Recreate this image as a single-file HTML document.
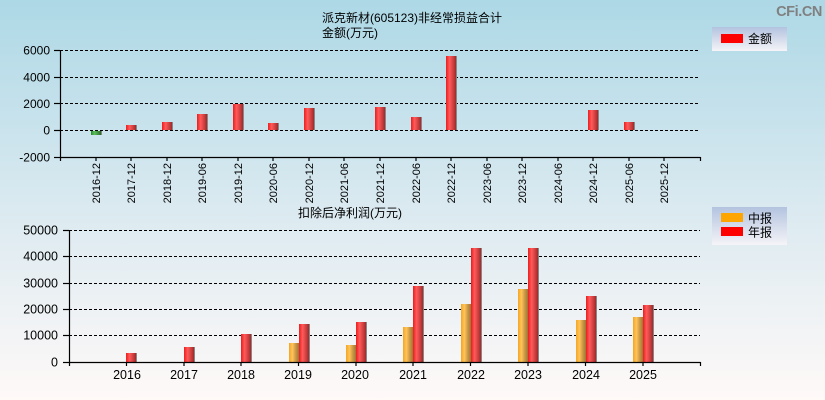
<!DOCTYPE html>
<html><head><meta charset="utf-8"><style>
html,body{margin:0;padding:0;}
body{width:825px;height:400px;overflow:hidden;}
svg{display:block;}
text{font-family:"Liberation Sans","Noto Sans CJK SC",sans-serif;fill:#000;}
</style></head><body>
<svg width="825" height="400" viewBox="0 0 825 400" xmlns="http://www.w3.org/2000/svg">
<defs>
<linearGradient id="bg" x1="0" y1="0" x2="0" y2="1">
<stop offset="0" stop-color="#add8e6"/>
<stop offset="0.5" stop-color="#d9e9f0"/>
<stop offset="1" stop-color="#fff9f8"/>
</linearGradient>
<linearGradient id="leg" x1="0" y1="0" x2="0" y2="1">
<stop offset="0" stop-color="#b3c3df"/>
<stop offset="1" stop-color="#f5f4f8"/>
</linearGradient>
<linearGradient id="red" x1="0" y1="0" x2="1" y2="0">
<stop offset="0" stop-color="#ee1c1c"/>
<stop offset="0.35" stop-color="#ff5a5a"/>
<stop offset="0.6" stop-color="#e04848"/>
<stop offset="1" stop-color="#9e2a2a"/>
</linearGradient>
<linearGradient id="org" x1="0" y1="0" x2="1" y2="0">
<stop offset="0" stop-color="#f5a623"/>
<stop offset="0.35" stop-color="#ffc55a"/>
<stop offset="0.6" stop-color="#d9a048"/>
<stop offset="1" stop-color="#9a7636"/>
</linearGradient>
<linearGradient id="grn" x1="0" y1="0" x2="1" y2="0">
<stop offset="0" stop-color="#2a8a2a"/>
<stop offset="0.35" stop-color="#5cc05c"/>
<stop offset="1" stop-color="#2a6a2a"/>
</linearGradient>
</defs>
<rect x="0" y="0" width="825" height="400" fill="url(#bg)"/>

<text x="822" y="16" font-size="14.5" font-weight="bold" text-anchor="end" letter-spacing="-0.4" style="fill:#808080">CFi.CN</text>

<!-- TOP CHART -->
<text x="412" y="22" font-size="12" text-anchor="middle">派克新材(605123)非经常损益合计</text>
<text x="322" y="37" font-size="12">金额(万元)</text>

<g stroke="#000" stroke-width="1" stroke-dasharray="3,2">
<line x1="60" y1="50.5" x2="700" y2="50.5"/>
<line x1="60" y1="77.5" x2="700" y2="77.5"/>
<line x1="60" y1="103.5" x2="700" y2="103.5"/>
<line x1="60" y1="130.5" x2="700" y2="130.5"/>
</g>

<g>
<rect x="91" y="131" width="10" height="4" fill="url(#grn)"/><rect x="101" y="131" width="1" height="4" fill="#888"/>
<rect x="126" y="125" width="10" height="5" fill="url(#red)"/><rect x="136" y="125" width="1" height="5" fill="#888"/>
<rect x="162" y="122" width="10" height="8" fill="url(#red)"/><rect x="172" y="122" width="1" height="8" fill="#888"/>
<rect x="197" y="114" width="10" height="16" fill="url(#red)"/><rect x="207" y="114" width="1" height="16" fill="#888"/>
<rect x="233" y="104" width="10" height="26" fill="url(#red)"/><rect x="243" y="104" width="1" height="26" fill="#888"/>
<rect x="268" y="123" width="10" height="7" fill="url(#red)"/><rect x="278" y="123" width="1" height="7" fill="#888"/>
<rect x="304" y="108" width="10" height="22" fill="url(#red)"/><rect x="314" y="108" width="1" height="22" fill="#888"/>
<rect x="375" y="107" width="10" height="23" fill="url(#red)"/><rect x="385" y="107" width="1" height="23" fill="#888"/>
<rect x="411" y="117" width="10" height="13" fill="url(#red)"/><rect x="421" y="117" width="1" height="13" fill="#888"/>
<rect x="446" y="56" width="10" height="74" fill="url(#red)"/><rect x="456" y="56" width="1" height="74" fill="#888"/>
<rect x="588" y="110" width="10" height="20" fill="url(#red)"/><rect x="598" y="110" width="1" height="20" fill="#888"/>
<rect x="624" y="122" width="10" height="8" fill="url(#red)"/><rect x="634" y="122" width="1" height="8" fill="#888"/>
</g>

<g stroke="#000" stroke-width="1.2">
<line x1="60.5" y1="50" x2="60.5" y2="161"/>
<line x1="60" y1="157.5" x2="700.5" y2="157.5"/>
<line x1="700.5" y1="157" x2="700.5" y2="161"/>
<line x1="54" y1="50.5" x2="60" y2="50.5"/>
<line x1="54" y1="77.5" x2="60" y2="77.5"/>
<line x1="54" y1="103.5" x2="60" y2="103.5"/>
<line x1="54" y1="130.5" x2="60" y2="130.5"/>
<line x1="54" y1="157.5" x2="60" y2="157.5"/>
<line x1="96" y1="157" x2="96" y2="161"/>
<line x1="131" y1="157" x2="131" y2="161"/>
<line x1="167" y1="157" x2="167" y2="161"/>
<line x1="202" y1="157" x2="202" y2="161"/>
<line x1="238" y1="157" x2="238" y2="161"/>
<line x1="273" y1="157" x2="273" y2="161"/>
<line x1="309" y1="157" x2="309" y2="161"/>
<line x1="344" y1="157" x2="344" y2="161"/>
<line x1="380" y1="157" x2="380" y2="161"/>
<line x1="416" y1="157" x2="416" y2="161"/>
<line x1="451" y1="157" x2="451" y2="161"/>
<line x1="487" y1="157" x2="487" y2="161"/>
<line x1="522" y1="157" x2="522" y2="161"/>
<line x1="558" y1="157" x2="558" y2="161"/>
<line x1="593" y1="157" x2="593" y2="161"/>
<line x1="629" y1="157" x2="629" y2="161"/>
<line x1="664" y1="157" x2="664" y2="161"/>
</g>

<g font-size="12" text-anchor="end">
<text x="50" y="54.5">6000</text>
<text x="50" y="81.5">4000</text>
<text x="50" y="108">2000</text>
<text x="50" y="134.5">0</text>
<text x="50" y="161.5">-2000</text>
</g>

<g font-size="11" text-anchor="end">
<text transform="translate(96,163) rotate(-90)" dy="0.36em">2016-12</text>
<text transform="translate(131,163) rotate(-90)" dy="0.36em">2017-12</text>
<text transform="translate(167,163) rotate(-90)" dy="0.36em">2018-12</text>
<text transform="translate(202,163) rotate(-90)" dy="0.36em">2019-06</text>
<text transform="translate(238,163) rotate(-90)" dy="0.36em">2019-12</text>
<text transform="translate(273,163) rotate(-90)" dy="0.36em">2020-06</text>
<text transform="translate(309,163) rotate(-90)" dy="0.36em">2020-12</text>
<text transform="translate(344,163) rotate(-90)" dy="0.36em">2021-06</text>
<text transform="translate(380,163) rotate(-90)" dy="0.36em">2021-12</text>
<text transform="translate(416,163) rotate(-90)" dy="0.36em">2022-06</text>
<text transform="translate(451,163) rotate(-90)" dy="0.36em">2022-12</text>
<text transform="translate(487,163) rotate(-90)" dy="0.36em">2023-06</text>
<text transform="translate(522,163) rotate(-90)" dy="0.36em">2023-12</text>
<text transform="translate(558,163) rotate(-90)" dy="0.36em">2024-06</text>
<text transform="translate(593,163) rotate(-90)" dy="0.36em">2024-12</text>
<text transform="translate(629,163) rotate(-90)" dy="0.36em">2025-06</text>
<text transform="translate(664,163) rotate(-90)" dy="0.36em">2025-12</text>
</g>

<rect x="712" y="27" width="75" height="24" fill="url(#leg)"/>
<rect x="721" y="34" width="22" height="9" fill="#ff0000"/>
<text x="748" y="43" font-size="12">金额</text>

<!-- BOTTOM CHART -->
<text x="350" y="217" font-size="12" text-anchor="middle">扣除后净利润(万元)</text>

<g stroke="#000" stroke-width="1" stroke-dasharray="3,2">
<line x1="69" y1="230.5" x2="700" y2="230.5"/>
<line x1="69" y1="256.5" x2="700" y2="256.5"/>
<line x1="69" y1="283.5" x2="700" y2="283.5"/>
<line x1="69" y1="309.5" x2="700" y2="309.5"/>
<line x1="69" y1="335.5" x2="700" y2="335.5"/>
</g>

<g>
<rect x="126" y="353" width="10" height="9" fill="url(#red)"/><rect x="136" y="353" width="1" height="9" fill="#888"/>
<rect x="184" y="347" width="10" height="15" fill="url(#red)"/><rect x="194" y="347" width="1" height="15" fill="#888"/>
<rect x="241" y="334" width="10" height="28" fill="url(#red)"/><rect x="251" y="334" width="1" height="28" fill="#888"/>
<rect x="289" y="343" width="10" height="19" fill="url(#org)"/>
<rect x="299" y="324" width="10" height="38" fill="url(#red)"/><rect x="309" y="324" width="1" height="38" fill="#888"/>
<rect x="346" y="345" width="10" height="17" fill="url(#org)"/>
<rect x="356" y="322" width="10" height="40" fill="url(#red)"/><rect x="366" y="322" width="1" height="40" fill="#888"/>
<rect x="403" y="327" width="10" height="35" fill="url(#org)"/>
<rect x="413" y="286" width="10" height="76" fill="url(#red)"/><rect x="423" y="286" width="1" height="76" fill="#888"/>
<rect x="461" y="304" width="10" height="58" fill="url(#org)"/>
<rect x="471" y="248" width="10" height="114" fill="url(#red)"/><rect x="481" y="248" width="1" height="114" fill="#888"/>
<rect x="518" y="289" width="10" height="73" fill="url(#org)"/>
<rect x="528" y="248" width="10" height="114" fill="url(#red)"/><rect x="538" y="248" width="1" height="114" fill="#888"/>
<rect x="576" y="320" width="10" height="42" fill="url(#org)"/>
<rect x="586" y="296" width="10" height="66" fill="url(#red)"/><rect x="596" y="296" width="1" height="66" fill="#888"/>
<rect x="633" y="317" width="10" height="45" fill="url(#org)"/>
<rect x="643" y="305" width="10" height="57" fill="url(#red)"/><rect x="653" y="305" width="1" height="57" fill="#888"/>
</g>

<g stroke="#000" stroke-width="1.2">
<line x1="69.5" y1="230" x2="69.5" y2="366"/>
<line x1="69" y1="362.5" x2="700.5" y2="362.5"/>
<line x1="700.5" y1="362" x2="700.5" y2="366"/>
<line x1="63" y1="230.5" x2="69" y2="230.5"/>
<line x1="63" y1="256.5" x2="69" y2="256.5"/>
<line x1="63" y1="283.5" x2="69" y2="283.5"/>
<line x1="63" y1="309.5" x2="69" y2="309.5"/>
<line x1="63" y1="335.5" x2="69" y2="335.5"/>
<line x1="63" y1="362.5" x2="69" y2="362.5"/>
<line x1="126.5" y1="362" x2="126.5" y2="366"/>
<line x1="184" y1="362" x2="184" y2="366"/>
<line x1="241" y1="362" x2="241" y2="366"/>
<line x1="298.5" y1="362" x2="298.5" y2="366"/>
<line x1="356" y1="362" x2="356" y2="366"/>
<line x1="413" y1="362" x2="413" y2="366"/>
<line x1="470.5" y1="362" x2="470.5" y2="366"/>
<line x1="528" y1="362" x2="528" y2="366"/>
<line x1="585.5" y1="362" x2="585.5" y2="366"/>
<line x1="643" y1="362" x2="643" y2="366"/>
</g>

<g font-size="12.5" text-anchor="end">
<text x="58" y="234.5">50000</text>
<text x="58" y="260.5">40000</text>
<text x="58" y="287.5">30000</text>
<text x="58" y="313.5">20000</text>
<text x="58" y="339.5">10000</text>
<text x="58" y="366.5">0</text>
</g>

<g font-size="12.5" text-anchor="middle">
<text x="127" y="379">2016</text>
<text x="184" y="379">2017</text>
<text x="241" y="379">2018</text>
<text x="298" y="379">2019</text>
<text x="355" y="379">2020</text>
<text x="413" y="379">2021</text>
<text x="471" y="379">2022</text>
<text x="528" y="379">2023</text>
<text x="586" y="379">2024</text>
<text x="643" y="379">2025</text>
</g>

<rect x="712" y="207" width="75" height="38" fill="url(#leg)"/>
<rect x="721" y="213" width="22" height="9" fill="#ffa500"/>
<rect x="721" y="227" width="22" height="9" fill="#ff0000"/>
<text x="748" y="222.5" font-size="12">中报</text>
<text x="748" y="236.5" font-size="12">年报</text>
</svg>
</body></html>
